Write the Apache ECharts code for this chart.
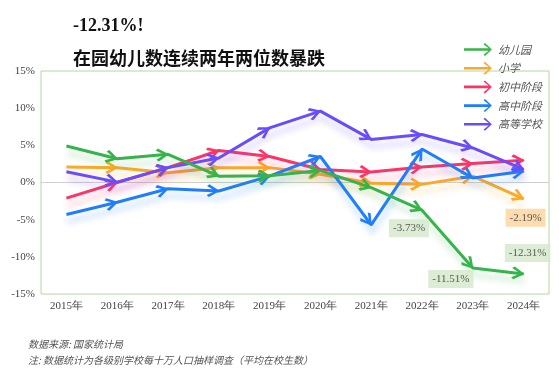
<!DOCTYPE html>
<html><head><meta charset="utf-8">
<script src="https://cdn.jsdelivr.net/npm/echarts@6/dist/echarts.min.js"></script>
<style>html,body{margin:0;padding:0;background:#fff}#c{width:559px;height:370px}</style>
</head><body><div id="c"></div>
<script>
const years = ['2015年','2016年','2017年','2018年','2019年','2020年','2021年','2022年','2023年','2024年'];
const seriesNames = ['幼儿园','小学','初中阶段','高中阶段','高等学校'];
const kindergarten = [4.9, 3.2, 3.8, 0.85, 0.9, 1.6, -0.7, -3.73, -11.51, -12.31];
const primary = [2.1, 2.0, 1.3, 2.0, 2.0, 1.1, -0.1, -0.25, 0.85, -2.19];
const junior = [-2.1, 0, 2.0, 4.3, 3.5, 1.75, 1.4, 2.1, 2.55, 3.0];
const senior = [-4.3, -2.65, -0.85, -1.15, 0.85, 3.5, -5.7, 4.5, 0.6, 1.5];
const higher = [1.45, 0.05, 2.0, 3.3, 7.35, 9.6, 5.8, 6.45, 4.65, 1.75];
const yTicks = [-15, -10, -5, 0, 5, 10, 15];
const colors = ['#35b44a', '#ffa826', '#ff3366', '#1f7eff', '#6a4cff'];
const allData = [kindergarten, primary, junior, senior, higher];
// labelled points: [seriesIndex, categoryIndex]
const labelPoints = [[0, 7], [0, 8], [0, 9], [1, 9]];
const labelOffsets = [[-13, 18], [-22, 11], [4, -21], [2, 19]];
const labelBg = ['#d4e8cb', '#d4e8cb', '#d4e8cb', '#fdd59c'];

const arrowPath = 'path://M1.8,0 L10,6 L1.8,12 L0,10.2 L6.6,6 L0,1.8 Z';
const legendIcon = 'path://M0,5.6 L26.5,5.6 L21,1.3 L22.6,0 L30,7 L22.6,14 L21,12.7 L26.5,8.4 L0,8.4 Z';
const SYM = 13;

const chart = echarts.init(document.getElementById('c'), null, {renderer: 'canvas'});

function lineSeries(i, data) {
  return {
    name: seriesNames[i], type: 'line', data: data,
    z: 2 + (i === 0 ? 5 : i),
    color: colors[i],
    lineStyle: {width: 3, color: colors[i], shadowColor: echarts.color.modifyAlpha(colors[i], 0.3), shadowBlur: 6, shadowOffsetX: 1, shadowOffsetY: 7},
    itemStyle: {color: colors[i]},
    symbol: arrowPath, symbolSize: [SYM, SYM], symbolKeepAspect: false,
    showAllSymbol: true, animation: false
  };
}

const baseOption = {
  animation: false,
  backgroundColor: '#fff',
  title: [
    {text: '-12.31%!', left: 68, top: 12, textStyle: {fontFamily: 'Liberation Serif', fontWeight: 'bold', fontSize: 18, color: '#111'}},
    {text: '在园幼儿数连续两年两位数暴跌', left: 68, top: 44, textStyle: {fontFamily: 'Noto Sans CJK SC', fontWeight: 'bold', fontSize: 18, color: '#111'}},
    {text: '数据来源: 国家统计局', left: 23, top: 334, textStyle: {fontFamily: 'Noto Sans CJK SC', fontStyle: 'italic', fontWeight: 'normal', fontSize: 10, color: '#555'}},
    {text: '注: 数据统计为各级别学校每十万人口抽样调查（平均在校生数）', left: 23, top: 350, textStyle: {fontFamily: 'Noto Sans CJK SC', fontStyle: 'italic', fontWeight: 'normal', fontSize: 10, color: '#555'}}
  ],
  legend: {
    data: seriesNames, orient: 'vertical', left: 459, top: 38,
    itemWidth: 30, itemHeight: 13, itemGap: 5.7, icon: legendIcon,
    textStyle: {fontFamily: 'Noto Sans CJK SC', fontStyle: 'italic', fontSize: 11, color: '#555'}
  },
  grid: {left: 41, right: 10, top: 71, bottom: 76, show: true, borderColor: '#b4d69c', borderWidth: 1, backgroundColor: 'transparent'},
  xAxis: {
    type: 'category', data: years, boundaryGap: true,
    axisLine: {show: true, onZero: true, lineStyle: {color: '#d0d0d0', width: 1}},
    axisTick: {show: false},
    axisLabel: {fontFamily: 'Liberation Serif', fontSize: 11, color: '#444', margin: 7, interval: 0},
    position: 'bottom'
  },
  yAxis: {
    type: 'value', min: yTicks[0], max: yTicks[yTicks.length - 1], interval: 5,
    axisLine: {show: false}, axisTick: {show: false}, splitLine: {show: false},
    axisLabel: {fontFamily: 'Liberation Serif', fontSize: 11, color: '#444', formatter: '{value}%', margin: 6}
  },
  series: allData.map((d, i) => lineSeries(i, d)).concat([{
    name: 'labels', type: 'scatter', symbolSize: 0, z: 20, silent: true,
    data: labelPoints.map((p, k) => ({
      value: [p[1], allData[p[0]][p[1]]],
      label: {show: true, position: 'inside', offset: labelOffsets[k], formatter: allData[p[0]][p[1]].toFixed(2) + '%',
        backgroundColor: labelBg[k], padding: [4, 4, 3, 4], fontFamily: 'Liberation Serif', fontSize: 11, color: '#333'}
    }))
  }])
};
chart.setOption(baseOption);

// compute arrow rotation per point from pixel geometry
const updated = allData.map((d, i) => {
  const pts = d.map((v, j) => chart.convertToPixel({seriesIndex: i}, [j, v]));
  return {
    data: d.map((v, j) => {
      if (j === 0) return {value: v, symbol: 'none'};
      const dx = pts[j][0] - pts[j - 1][0], dy = pts[j][1] - pts[j - 1][1];
      const len = Math.hypot(dx, dy);
      const ux = dx / len, uy = dy / len;
      const ang = Math.atan2(-uy, ux) * 180 / Math.PI;
      const off = SYM / 2 - 1;
      return {value: v, symbolRotate: ang, symbolOffset: [-ux * off, -uy * off]};
    })
  };
});
chart.setOption({series: updated});
</script></body></html>
